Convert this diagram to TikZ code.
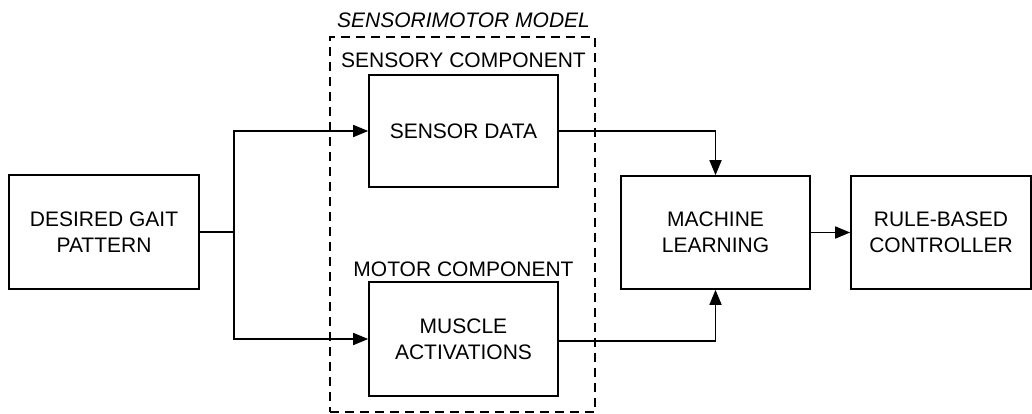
\documentclass[tikz,border=0pt]{standalone}
\usepackage{fontspec}
\setmainfont{Liberation Sans}
\usetikzlibrary{arrows.meta}
\begin{document}
\begin{tikzpicture}[x=1pt,y=-1pt,
  txt/.style={font=\fontsize{21}{25.7}\selectfont, align=center, inner sep=0pt},
  blk/.style={txt, draw, line width=1.6pt, minimum width=189pt, minimum height=113pt},
  arr/.style={line width=1.6pt, -{Triangle[length=15pt,width=12pt]}},
  dbox/.style={draw, line width=1.5pt, dash pattern=on 9pt off 6pt}]
\useasboundingbox (0,0) rectangle (1032,414);
\node[blk, minimum width=190pt, minimum height=114pt] (desired) at (104,232) {DESIRED GAIT\\PATTERN};
\node[blk, minimum height=112pt] (sensor) at (463.5,131) {SENSOR DATA};
\node[blk, minimum height=114pt] (muscle) at (463.5,339) {MUSCLE\\ACTIVATIONS};
\node[blk] (ml) at (715.5,232.5) {MACHINE\\LEARNING};
\node[blk, minimum width=180pt] (rule) at (941,232.5) {RULE-BASED\\CONTROLLER};
\node[dbox, minimum width=265pt, minimum height=375pt, inner sep=0pt] (sm) at (462.5,224.5) {};
\node[txt, font=\fontsize{21}{25.7}\selectfont\itshape] (smlabel) at (463.5,20) {SENSORIMOTOR MODEL};
\node[txt] (sclabel) at (463.5,60) {SENSORY COMPONENT};
\node[txt] (mclabel) at (463.5,269) {MOTOR COMPONENT};
\coordinate (j) at (234,232);
\draw[line width=1.6pt] (desired.east) -- (j);
\draw[arr] (j) |- (sensor.west);
\draw[arr] (j) |- (muscle.west);
\draw[arr] (sensor.east) -| (ml.north);
\draw[arr] ([yshift=-2pt]muscle.east) -| (ml.south);
\draw[arr] (ml.east) -- (rule.west);
\end{tikzpicture}
\end{document}
